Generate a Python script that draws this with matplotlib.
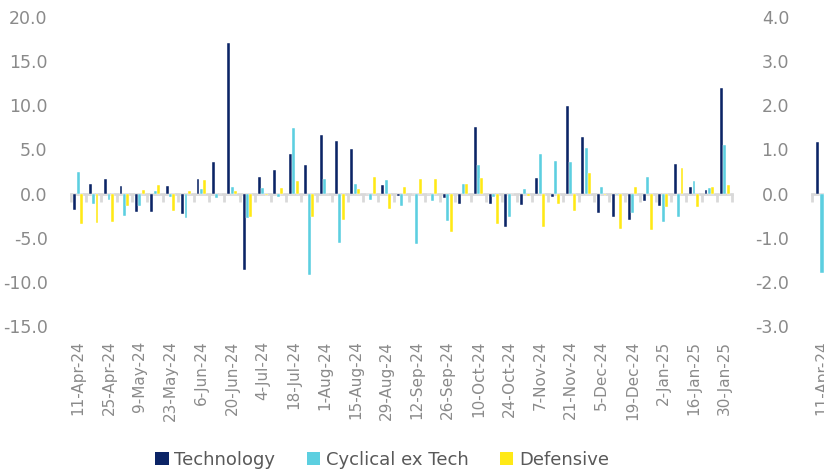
import numpy as np
import matplotlib
matplotlib.use("Agg")
from matplotlib import pyplot as plt
from matplotlib.patches import Patch

plt.rcParams['font.family'] = ['DejaVu Sans']

# weekly dates, labelled every second week
weeks = ["11-Apr-24", "18-Apr-24", "25-Apr-24", "2-May-24", "9-May-24", "16-May-24",
         "23-May-24", "30-May-24", "6-Jun-24", "13-Jun-24", "20-Jun-24", "27-Jun-24",
         "4-Jul-24", "11-Jul-24", "18-Jul-24", "25-Jul-24", "1-Aug-24", "8-Aug-24",
         "15-Aug-24", "22-Aug-24", "29-Aug-24", "5-Sep-24", "12-Sep-24", "19-Sep-24",
         "26-Sep-24", "3-Oct-24", "10-Oct-24", "17-Oct-24", "24-Oct-24", "31-Oct-24",
         "7-Nov-24", "14-Nov-24", "21-Nov-24", "28-Nov-24", "5-Dec-24", "12-Dec-24",
         "19-Dec-24", "26-Dec-24", "2-Jan-25", "9-Jan-25", "16-Jan-25", "23-Jan-25",
         "30-Jan-25"]

technology = [-1.9, 1.1, 1.6, 0.9, -2.1, -2.1, 0.9, -2.3, 1.7, 3.6, 17.1, -8.65,
              1.9, 2.7, 4.45, 3.2, 6.6, 5.9, 5.0, 0.0, 1.0, -0.25, 0.0, 0.0,
              -0.5, -1.2, 7.5, -1.2, -3.75, -1.35, 1.75, -0.35, 9.9, 6.4, -2.2, -2.6,
              -3.0, -0.8, -1.4, 3.4, 0.7, 0.4, 12.0]
cyclical = [2.4, -1.2, -0.7, -2.5, -1.4, 0.3, -0.4, -2.8, 0.5, -0.5, 0.7, -2.8,
            0.6, -0.4, 7.4, -9.25, 1.65, -5.6, 1.05, -0.7, 1.5, -1.4, -5.7, -0.85,
            -3.15, 1.05, 3.2, -0.35, -2.7, 0.5, 4.5, 3.7, 3.6, 5.2, 0.7, -0.2,
            -2.2, 1.9, -3.2, -2.7, 1.45, 0.6, 5.5]
defensive = [-3.5, -3.3, -3.2, -1.4, 0.4, 1.0, -2.0, 0.3, 1.5, 0.0, 0.3, -2.7,
             -0.2, 0.6, 1.4, -2.7, 0.0, -3.0, 0.5, 1.9, -1.8, 0.8, 1.6, 1.6,
             -4.3, 1.05, 1.75, -3.5, 0.0, -0.25, -3.75, -1.2, -2.0, 2.3, -0.2, -4.0,
             0.75, -4.15, -1.5, 2.9, -1.5, 0.8, 1.0]

# second (cut off) panel
technology2 = [1.16]
cyclical2 = [-1.8]
defensive2 = [0.0]

series = ["Technology", "Cyclical ex Tech", "Defensive"]
colors = ["#0b2466", "#5ccfe0", "#ffe916"]

grey = "#d9d9d9"
txt = "#8a8a8a"

fig = plt.figure(figsize=(8.24, 4.72), dpi=100)
ax = fig.add_axes([70.5 / 824, 1 - 326 / 472, 662 / 824, 309 / 472])
ax2 = fig.add_axes([812 / 824, 1 - 326 / 472, 838 / 824, 309 / 472])


def draw(a, vals, labels, ylim, yticks):
    x = np.arange(len(labels))
    step = 0.22
    for k, (v, c) in enumerate(zip(vals, colors)):
        a.bar(x + (k - 1) * step, v, width=0.19, color=c,
              edgecolor="white", linewidth=0.3, zorder=2)
    a.set_xlim(-0.5, len(weeks) - 0.5)
    a.set_ylim(*ylim)
    a.set_yticks(yticks)
    a.set_yticklabels([f"{t:.1f}" for t in yticks], color=txt, fontsize=12.5)
    a.tick_params(axis="y", length=0, pad=16.5)
    for s in ["top", "right", "left"]:
        a.spines[s].set_visible(False)
    a.spines["bottom"].set_position(("data", 0))
    a.spines["bottom"].set_color(grey)
    a.spines["bottom"].set_linewidth(2)
    a.spines["bottom"].set_zorder(1)
    a.set_xticks(np.arange(len(labels) + 1) - 0.5)
    a.set_xticklabels([])
    a.tick_params(axis="x", length=6, width=2, color=grey)
    sec = a.secondary_xaxis(0)
    sec.set_xticks(x[::2])
    sec.set_xticklabels(labels[::2], rotation=90, color=txt, fontsize=11)
    sec.tick_params(length=0, pad=10.5)
    sec.spines["bottom"].set_visible(False)


draw(ax, [technology, cyclical, defensive], weeks, (-15, 20), np.arange(-15, 21, 5))
draw(ax2, [technology2, cyclical2, defensive2], weeks[:1], (-3, 4), np.arange(-3, 5, 1))

handles = [Patch(facecolor=c, label=s) for c, s in zip(colors, series)]
fig.legend(handles=handles, loc="center", bbox_to_anchor=(382 / 824, 1 - 460 / 472), ncol=3,
           frameon=False, fontsize=13, handlelength=0.75, handleheight=0.75, handletextpad=0.3,
           columnspacing=1.75, labelcolor="#595959", borderpad=0)

fig.savefig("out.png", dpi=100)
